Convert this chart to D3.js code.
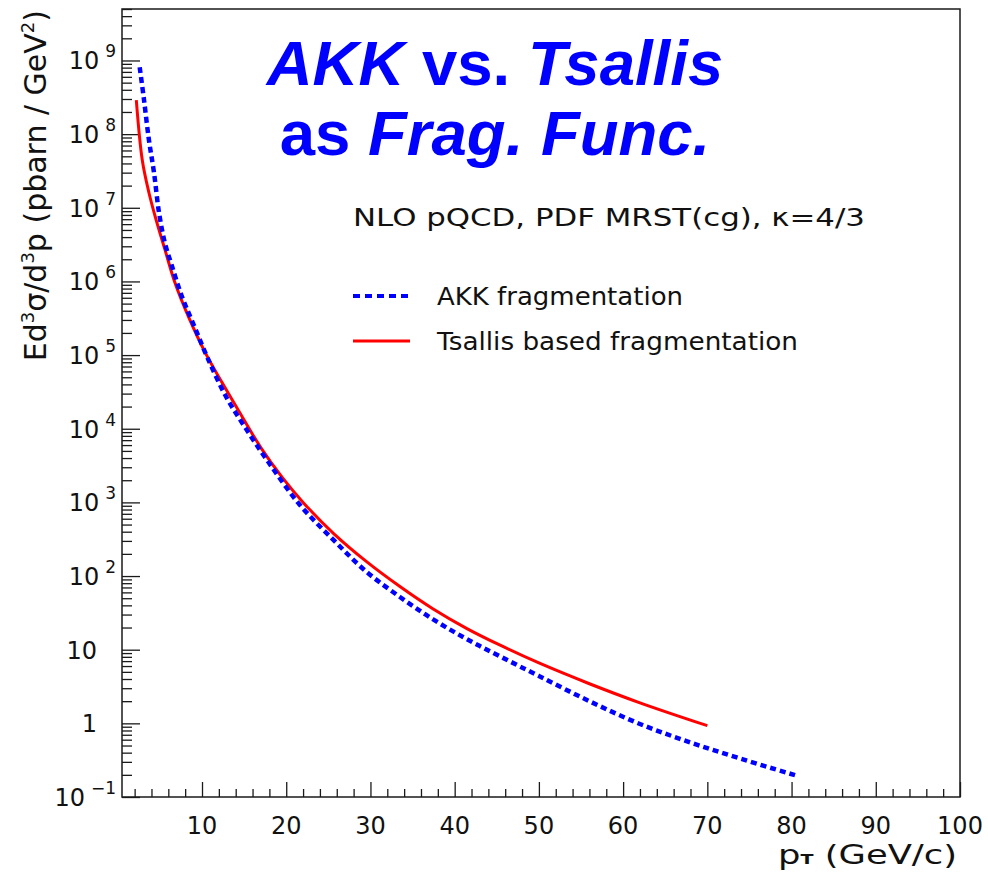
<!DOCTYPE html>
<html>
<head>
<meta charset="utf-8">
<script src="https://cdn.jsdelivr.net/npm/d3@7"></script>
<style>
  html, body { margin: 0; padding: 0; background: #fff; }
  svg { display: block; }
</style>
</head>
<body>
<svg id="chart" width="988" height="873"></svg>
<script>
// ---- data ----
const akkPt  = [2.6, 3.1, 3.7, 4.3, 4.9, 5.6, 6.4, 7.6, 9.0, 10.6, 12.8, 15.1, 17.9, 21.6, 25.6, 29.5, 33.5, 37.4, 41.4, 45.4, 50, 56, 62, 68, 74, 80.6];
const akkVal = [8.1e8, 3.0e8, 8.3e7, 3.0e7, 8.5e6, 3.3e6, 1.66e6, 6.3e5, 2.6e5, 9.5e4, 2.8e4, 1.05e4, 3.5e3, 930, 310, 115, 52, 26, 14, 8.1, 4.4, 2.0, 0.98, 0.55, 0.33, 0.195];

const tsPt  = [2.2, 2.9, 3.7, 4.5, 5.6, 6.8, 8.4, 10.4, 12.4, 14.7, 17, 19.5, 22, 25.6, 29.5, 33.5, 37.4, 41.4, 45.4, 50, 56, 62, 70];
const tsVal = [2.9e8, 4.5e7, 1.6e7, 7.2e6, 2.7e6, 9.5e5, 3.3e5, 1.07e5, 4.2e4, 1.5e4, 5.5e3, 2.2e3, 1.0e3, 380, 158, 72, 36, 19.5, 11.5, 6.6, 3.45, 1.9, 0.93];

const xTickVals = [10, 20, 30, 40, 50, 60, 70, 80, 90, 100];
const yDecades  = [-1, 0, 1, 2, 3, 4, 5, 6, 7, 8, 9];   // exponents of the major y ticks
const seriesNames = ["AKK fragmentation", "Tsallis based fragmentation"];
const titleLine1 = [["AKK", true], [" vs. ", false], ["Tsallis", true]];
const titleLine2 = [["as ", false], ["Frag. Func.", true]];
const infoText = "NLO pQCD, PDF MRST(cg), \u03BA=4/3";

// ---- layout ----
const L = 122, R = 960, T = 9, B = 797;
const svg = d3.select("#chart");
const x = d3.scaleLinear().domain([0.5, 100]).range([L, R]);
const y = d3.scaleLog().domain([0.1, 5e9]).range([B, T]);
const axisColor = "#1a1a1a";
const FONT = "'DejaVu Sans', sans-serif";

// frame
svg.append("rect").attr("x", L).attr("y", T).attr("width", R - L).attr("height", B - T)
  .attr("fill", "none").attr("stroke", axisColor).attr("stroke-width", 1.5);

// x axis ticks (inward)
const xMinor = d3.range(2, 100, 2).filter(v => v % 10 !== 0);
const xAxisMaj = d3.axisTop(x).tickValues(xTickVals).tickSize(15).tickFormat("");
const xAxisMin = d3.axisTop(x).tickValues(xMinor).tickSize(8).tickFormat("");
[xAxisMaj, xAxisMin].forEach(ax => {
  const g = svg.append("g").attr("transform", `translate(0,${B})`).call(ax);
  g.select(".domain").remove();
  g.selectAll("line").attr("stroke", axisColor).attr("stroke-width", 1.3);
});
svg.append("g").selectAll("text").data(xTickVals).join("text")
  .attr("x", d => x(d)).attr("y", 834)
  .attr("text-anchor", "middle").attr("font-family", FONT).attr("font-size", 24)
  .attr("fill", "#111").text(d => d);

// y axis ticks (inward)
const yMajorVals = yDecades.map(e => Math.pow(10, e));
const yMinorVals = [];
yDecades.forEach(e => { for (let k = 2; k <= 9; k++) { const v = k * Math.pow(10, e); if (v <= 5e9) yMinorVals.push(v); } });
const yAxisMaj = d3.axisRight(y).tickValues(yMajorVals).tickSize(18).tickFormat("");
const yAxisMin = d3.axisRight(y).tickValues(yMinorVals).tickSize(10).tickFormat("");
[yAxisMaj, yAxisMin].forEach(ax => {
  const g = svg.append("g").attr("transform", `translate(${L},0)`).call(ax);
  g.select(".domain").remove();
  g.selectAll("line").attr("stroke", axisColor).attr("stroke-width", 1.3);
});
const yl = svg.append("g").attr("font-family", FONT).attr("fill", "#111");
yDecades.forEach(e => {
  const yy = y(Math.pow(10, e)) + 9;
  if (e === 0 || e === 1) {
    yl.append("text").attr("x", 97).attr("y", yy).attr("text-anchor", "end")
      .attr("font-size", 24).text(e === 0 ? "1" : "10");
  } else {
    const t = yl.append("text").attr("x", 116).attr("y", yy).attr("text-anchor", "end").attr("font-size", 24);
    t.append("tspan").text("10");
    t.append("tspan").attr("dx", 6).attr("dy", -12).attr("font-size", 17).text(e < 0 ? "\u2212" + (-e) : e);
  }
});

// y axis title
const yt = svg.append("text").attr("transform", "translate(46,10) rotate(-90)")
  .attr("text-anchor", "end").attr("font-family", FONT).attr("font-size", 30).attr("fill", "#111");
yt.append("tspan").text("Ed");
yt.append("tspan").attr("dy", -12).attr("font-size", 18).text("3");
yt.append("tspan").attr("dy", 12).text("\u03C3/d");
yt.append("tspan").attr("dy", -12).attr("font-size", 18).text("3");
yt.append("tspan").attr("dy", 12).text("p (pbarn / GeV");
yt.append("tspan").attr("dy", -12).attr("font-size", 18).text("2");
yt.append("tspan").attr("dy", 12).text(")");

// x axis title
const xt = svg.append("text").attr("x", 778).attr("y", 864)
  .attr("font-family", FONT).attr("font-size", 26).attr("fill", "#111")
  .attr("textLength", 179).attr("lengthAdjust", "spacingAndGlyphs");
xt.append("tspan").text("p");
xt.append("tspan").attr("font-size", 14).attr("font-weight", "bold").text("T");
xt.append("tspan").text(" (GeV/c)");

// curves
const line = d3.line().x(d => x(d[0])).y(d => y(d[1])).curve(d3.curveCatmullRom.alpha(0.5));
const tsData = tsPt.map((p, i) => [p, tsVal[i]]);
const akkData = akkPt.map((p, i) => [p, akkVal[i]]);
svg.append("path").datum(tsData).attr("d", line)
  .attr("fill", "none").attr("stroke", "#ff0000").attr("stroke-width", 3);
svg.append("path").datum(akkData).attr("d", line)
  .attr("fill", "none").attr("stroke", "#0000ff").attr("stroke-width", 4.5)
  .attr("stroke-dasharray", "6,4");

// title
const titleG = svg.append("g").attr("font-family", "'Liberation Sans', Arial, sans-serif")
  .attr("font-weight", "bold").attr("font-size", 63.5).attr("fill", "#0000ff");
[[titleLine1, 85], [titleLine2, 155]].forEach(([parts, by]) => {
  const t = titleG.append("text").attr("x", 495).attr("y", by).attr("text-anchor", "middle")
    .style("white-space", "pre");
  parts.forEach(([s, it]) => t.append("tspan").attr("font-style", it ? "italic" : "normal").text(s));
});

// info text
svg.append("text").attr("x", 353).attr("y", 226).attr("font-family", FONT).attr("font-size", 24)
  .attr("fill", "#111").attr("textLength", 512).attr("lengthAdjust", "spacingAndGlyphs").text(infoText);

// legend
const legY = [296, 341];
const legW = [246, 361];
svg.append("line").attr("x1", 353).attr("x2", 410).attr("y1", legY[0]).attr("y2", legY[0])
  .attr("stroke", "#0000ff").attr("stroke-width", 4).attr("stroke-dasharray", "7,5");
svg.append("line").attr("x1", 353).attr("x2", 410).attr("y1", legY[1]).attr("y2", legY[1])
  .attr("stroke", "#ff0000").attr("stroke-width", 3);
seriesNames.forEach((s, i) => {
  svg.append("text").attr("x", 437).attr("y", legY[i] + 9).attr("font-family", FONT).attr("font-size", 24)
    .attr("fill", "#111").attr("textLength", legW[i]).attr("lengthAdjust", "spacingAndGlyphs").text(s);
});
</script>
</body>
</html>
